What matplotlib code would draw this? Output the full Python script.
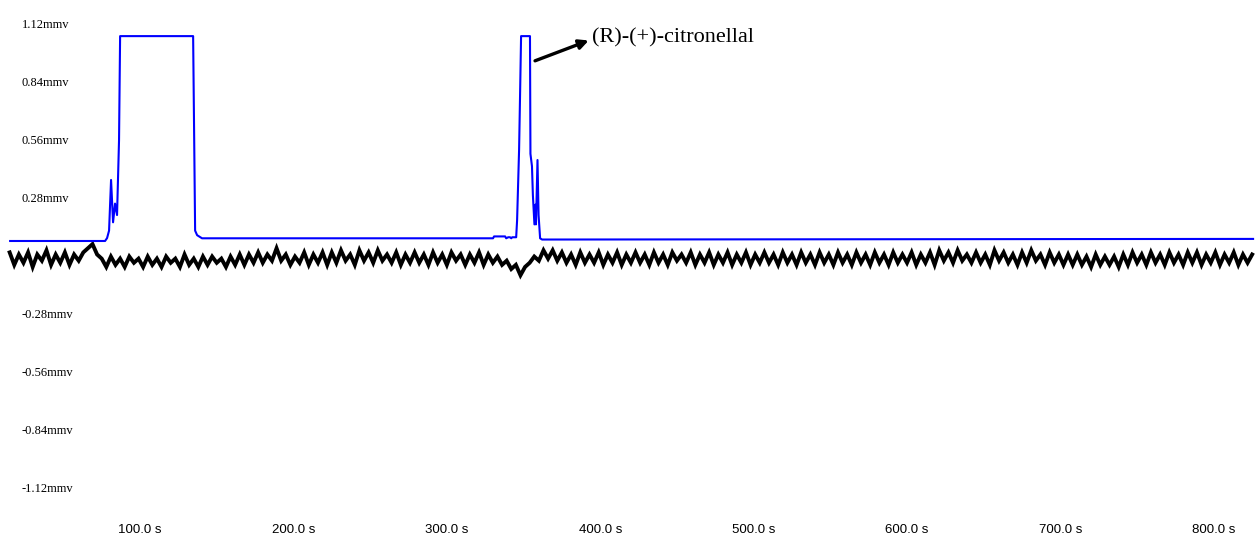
"""GC-EAD trace: FID (blue) and antenna response (black)"""
import numpy as np
import matplotlib.pyplot as plt

# FID trace, time (s) and signal (mV)
fid_t = [15.3, 77.2, 78.5, 79.8, 81.1, 82.4, 83.7, 85.0, 86.3, 87.0,
         134.6, 135.3, 135.9, 137.2, 140.4,
         330.1, 330.8, 338.0, 338.7, 340.0, 341.2, 342.0, 342.6, 345.2,
         345.8, 347.1, 347.8, 348.4, 354.2, 354.5, 355.5, 356.1, 357.1,
         357.8, 358.1, 359.1, 359.8, 360.8, 362.1, 825.6]
fid_mv = [0.070, 0.070, 0.084, 0.120, 0.364, 0.160, 0.250, 0.195, 0.556, 1.057,
          1.057, 0.556, 0.120, 0.098, 0.083,
          0.083, 0.092, 0.092, 0.083, 0.088, 0.088, 0.083, 0.088, 0.088,
          0.170, 0.510, 0.800, 1.057, 1.057, 0.490, 0.430, 0.290, 0.150,
          0.245, 0.150, 0.460, 0.195, 0.083, 0.077, 0.080]

# antenna (EAD) trace, one reading every 3 s from 15 s, in 0.01 mV
ead_start = 15.0
ead_step = 3.0
ead_cmv = [2, -4, 1, -3, 2, -5, 1, -2, 3, -4,
           1, -3, 2, -4, 1, -2, 2, 4, 6, 1,
           -1, -5, 0, -4, -1, -5, 0, -3, -1, -5,
           0, -4, -1, -5, 0, -3, -1, -5, 1, -4,
           -1, -5, 0, -4, 0, -3, -1, -5, 0, -4,
           1, -4, 1, -3, 2, -3, 1, -2, 4, -2,
           1, -4, 0, -3, 2, -4, 1, -3, 2, -4,
           2, -3, 3, -2, 1, -4, 3, -2, 2, -3,
           3, -2, 1, -3, 2, -4, 1, -3, 2, -3,
           1, -4, 2, -3, 1, -4, 2, -2, 1, -4,
           1, -3, 2, -4, 1, -3, 0, -4, -2, -6,
           -4, -9, -5, -3, 0, -2, 3, -1, 3, -2,
           2, -3, 1, -4, 2, -3, 1, -3, 2, -4,
           1, -3, 2, -4, 1, -3, 2, -3, 1, -4,
           2, -3, 1, -4, 2, -2, 1, -3, 2, -4,
           1, -3, 2, -4, 1, -3, 2, -4, 1, -3,
           2, -4, 1, -3, 2, -3, 1, -4, 2, -3,
           1, -4, 2, -3, 1, -4, 2, -3, 1, -4,
           2, -3, 1, -4, 2, -3, 1, -4, 2, -3,
           1, -4, 2, -3, 1, -3, 2, -4, 1, -3,
           2, -4, 3, -2, 2, -3, 3, -2, 1, -3,
           2, -3, 1, -4, 3, -2, 2, -3, 1, -4,
           2, -3, 3, -2, 1, -4, 2, -3, 1, -4,
           1, -4, 1, -4, 0, -5, 1, -4, 0, -4,
           0, -5, 1, -4, 2, -3, 1, -4, 2, -3,
           1, -4, 2, -3, 1, -4, 2, -3, 2, -4,
           1, -3, 2, -4, 1, -3, 2, -4, 1, -3, 1]

y_ticks = [1.12, 0.84, 0.56, 0.28, -0.28, -0.56, -0.84, -1.12]
y_labels = ['1.12mmv', '0.84mmv', '0.56mmv', '0.28mmv',
            '-0.28mmv', '-0.56mmv', '-0.84mmv', '-1.12mmv']
x_ticks = [100, 200, 300, 400, 500, 600, 700, 800]
x_labels = ['100.0 s', '200.0 s', '300.0 s', '400.0 s',
            '500.0 s', '600.0 s', '700.0 s', '800.0 s']

peak_label = '(R)-(+)-citronellal'

fig = plt.figure(figsize=(12.56, 5.46), dpi=100)
ax = fig.add_axes([0, 36 / 546, 1, 510 / 546])

ead_t = ead_start + ead_step * np.arange(len(ead_cmv))
ax.plot(ead_t, np.array(ead_cmv) / 100 - 0.005, color='black', lw=2.8,
        solid_joinstyle='miter')
ax.plot(fid_t, fid_mv, color='#0000ff', lw=1.5)

# arrow from the peak towards its name
ax.annotate('', xy=(392.5, 1.036), xytext=(357.5, 0.938),
            arrowprops=dict(arrowstyle='-|>', color='black', lw=2.4,
                            mutation_scale=14, shrinkA=0, shrinkB=0))
ax.text(394.5, 1.048, peak_label, ha='left', va='center', fontsize=16,
        family='Liberation Serif')

ax.set_xlim(8.7, 827.5)
ax.set_ylim(-1.226, 1.231)

ax.set_yticks(y_ticks, y_labels)
ax.set_xticks(x_ticks, x_labels)
ax.tick_params(axis='y', length=0, pad=-15.5, labelsize=9)
ax.tick_params(axis='x', length=0, pad=10, labelsize=9.5)
for lab in ax.get_yticklabels():
    lab.set_horizontalalignment('left')
    lab.set_family('Liberation Serif')
for lab in ax.get_xticklabels():
    lab.set_family('Liberation Sans')

for side in ax.spines.values():
    side.set_visible(False)

fig.savefig('out.png', dpi=100)
